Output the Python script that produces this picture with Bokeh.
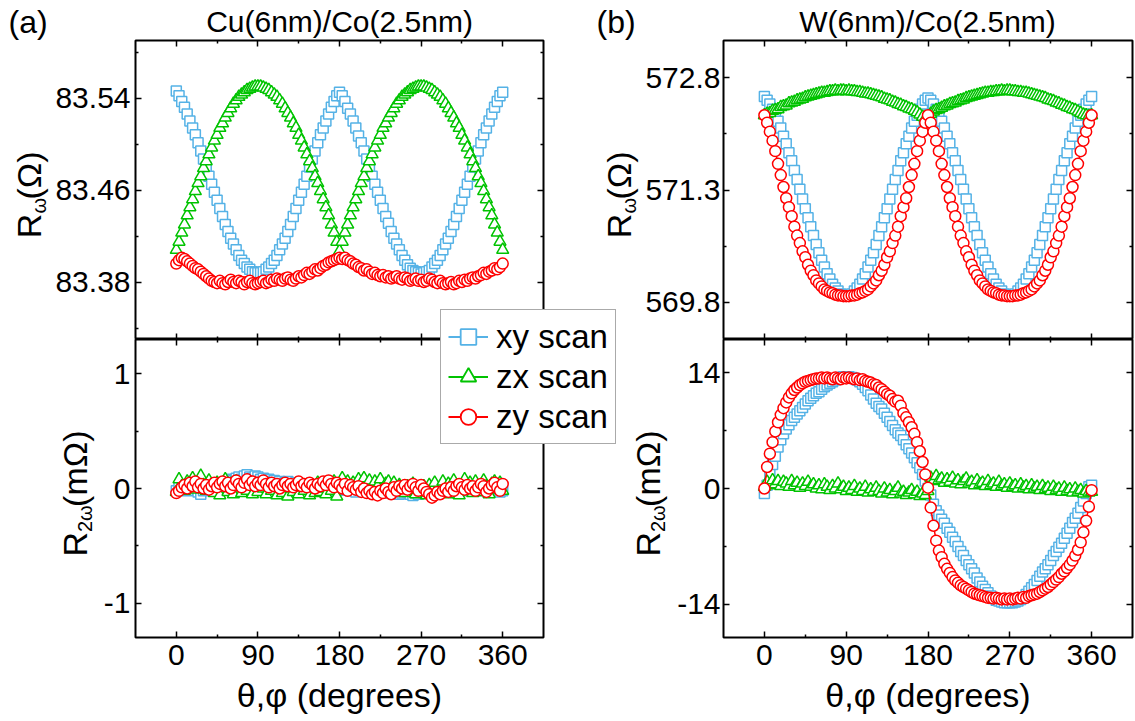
import math
from bokeh.plotting import figure
from bokeh.layouts import column
from bokeh.models import Range1d, FixedTicker, LinearAxis, Label, Legend, LegendItem, GridBox, Grid
from bokeh.embed import file_html
from bokeh.resources import INLINE

FONT = "Liberation Sans"
BLUE = "#55B2E6"
GREEN = "#00C300"
RED = "#FF0000"

# ---------------- data ----------------
ANGLES = list(range(0, 361, 3))
X_TICKS = [0, 90, 180, 270, 360]
X_MINOR = [45, 135, 225, 315]
X_RANGE = (-45, 405)
SERIES_NAMES = ["xy scan", "zx scan", "zy scan"]
TITLES = ["Cu(6nm)/Co(2.5nm)", "W(6nm)/Co(2.5nm)"]
PANEL_TAGS = ["(a)", "(b)"]

CU_YLIM = (83.33, 83.59)
CU_TICKS = [83.38, 83.46, 83.54]
CU_MINOR = [83.34, 83.42, 83.50, 83.58]
CU2_YLIM = (-1.3, 1.3)
CU2_TICKS = [-1, 0, 1]
CU2_MINOR = [-0.5, 0.5]
W_YLIM = (569.3, 573.3)
W_TICKS = [569.8, 571.3, 572.8]
W_MINOR = [570.55, 572.05]
W2_YLIM = (-18, 18)
W2_TICKS = [-14, 0, 14]
W2_MINOR = [-7, 7]

# Cu(6nm)/Co(2.5nm), R_omega (Ohm)
CU_XY = [83.546, 83.542, 83.537, 83.532, 83.526, 83.520, 83.514, 83.508, 83.501, 83.494,
         83.487, 83.480, 83.472, 83.465, 83.458, 83.451, 83.444, 83.437, 83.430, 83.424,
         83.418, 83.413, 83.408, 83.403, 83.399, 83.396, 83.393, 83.391, 83.389, 83.388,
         83.388, 83.388, 83.389, 83.391, 83.393, 83.396, 83.399, 83.403, 83.408, 83.413,
         83.418, 83.424, 83.430, 83.437, 83.444, 83.451, 83.458, 83.465, 83.472, 83.480,
         83.487, 83.494, 83.501, 83.508, 83.514, 83.520, 83.526, 83.532, 83.537, 83.542,
         83.545, 83.542, 83.537, 83.531, 83.526, 83.520, 83.514, 83.507, 83.501, 83.494,
         83.487, 83.480, 83.472, 83.465, 83.458, 83.451, 83.444, 83.437, 83.431, 83.424,
         83.418, 83.413, 83.408, 83.403, 83.399, 83.395, 83.392, 83.390, 83.389, 83.388,
         83.387, 83.388, 83.389, 83.390, 83.393, 83.396, 83.399, 83.403, 83.408, 83.413,
         83.418, 83.424, 83.430, 83.437, 83.444, 83.451, 83.458, 83.465, 83.472, 83.480,
         83.487, 83.494, 83.501, 83.508, 83.514, 83.520, 83.526, 83.532, 83.537, 83.542,
         83.545]
CU_ZX = [83.408, 83.415, 83.423, 83.430, 83.438, 83.445, 83.452, 83.459, 83.466, 83.472,
         83.479, 83.485, 83.491, 83.497, 83.503, 83.508, 83.514, 83.518, 83.523, 83.527,
         83.531, 83.535, 83.538, 83.541, 83.543, 83.545, 83.547, 83.548, 83.549, 83.550,
         83.550, 83.550, 83.549, 83.548, 83.547, 83.545, 83.543, 83.541, 83.538, 83.535,
         83.531, 83.527, 83.523, 83.518, 83.514, 83.508, 83.503, 83.497, 83.491, 83.485,
         83.479, 83.472, 83.466, 83.459, 83.452, 83.445, 83.438, 83.430, 83.423, 83.415,
         83.407, 83.415, 83.423, 83.430, 83.438, 83.445, 83.452, 83.459, 83.466, 83.472,
         83.479, 83.485, 83.491, 83.497, 83.503, 83.508, 83.514, 83.518, 83.523, 83.527,
         83.531, 83.535, 83.538, 83.541, 83.543, 83.545, 83.547, 83.548, 83.549, 83.550,
         83.550, 83.550, 83.549, 83.548, 83.547, 83.545, 83.543, 83.541, 83.538, 83.535,
         83.531, 83.527, 83.523, 83.518, 83.514, 83.508, 83.503, 83.497, 83.491, 83.485,
         83.479, 83.472, 83.466, 83.459, 83.452, 83.445, 83.438, 83.430, 83.423, 83.415,
         83.408]
CU_ZY = [83.396, 83.399, 83.401, 83.400, 83.398, 83.396, 83.394, 83.392, 83.391, 83.389,
         83.387, 83.385, 83.383, 83.381, 83.380, 83.379, 83.381, 83.379, 83.378, 83.380,
         83.382, 83.380, 83.379, 83.381, 83.380, 83.378, 83.380, 83.381, 83.379, 83.378,
         83.379, 83.380, 83.381, 83.379, 83.380, 83.382, 83.381, 83.383, 83.382, 83.381,
         83.383, 83.384, 83.382, 83.381, 83.383, 83.385, 83.384, 83.386, 83.388, 83.387,
         83.389, 83.391, 83.390, 83.392, 83.394, 83.395, 83.397, 83.398, 83.399, 83.400,
         83.401, 83.400, 83.401, 83.399, 83.398, 83.396, 83.395, 83.393, 83.392, 83.390,
         83.391, 83.389, 83.387, 83.388, 83.386, 83.385, 83.386, 83.384, 83.385, 83.383,
         83.384, 83.385, 83.383, 83.382, 83.384, 83.383, 83.381, 83.382, 83.383, 83.381,
         83.382, 83.380, 83.381, 83.383, 83.382, 83.380, 83.379, 83.381, 83.379, 83.378,
         83.379, 83.380, 83.378, 83.379, 83.381, 83.380, 83.382, 83.381, 83.383, 83.384,
         83.383, 83.385, 83.386, 83.388, 83.387, 83.389, 83.390, 83.392, 83.391, 83.393,
         83.396]

# Cu(6nm)/Co(2.5nm), R_2omega (mOhm)
CU2_XY = [-0.02, 0.01, 0.03, 0.00, -0.02, 0.02, 0.04, 0.01, -0.03, -0.05,
          -0.02, 0.01, 0.03, 0.02, -0.01, 0.02, 0.04, 0.03, 0.05, 0.06,
          0.08, 0.07, 0.09, 0.10, 0.08, 0.11, 0.12, 0.10, 0.09, 0.11,
          0.10, 0.08, 0.09, 0.07, 0.08, 0.06, 0.07, 0.05, 0.06, 0.04,
          0.05, 0.06, 0.04, 0.03, 0.05, 0.04, 0.02, 0.03, 0.01, 0.02,
          0.00, 0.01, -0.01, 0.00, 0.02, 0.01, -0.02, -0.01, 0.00, -0.02,
          -0.01, 0.00, -0.01, 0.01, -0.02, 0.00, -0.03, -0.01, 0.00, -0.02,
          -0.03, -0.01, -0.02, 0.00, -0.01, -0.03, -0.02, -0.04, -0.03, -0.01,
          -0.02, -0.03, -0.05, -0.04, -0.02, -0.03, -0.05, -0.06, -0.04, -0.05,
          -0.03, -0.04, -0.02, -0.03, -0.01, -0.02, 0.00, -0.01, 0.01, 0.00,
          -0.02, -0.01, 0.01, 0.02, 0.00, -0.01, 0.01, -0.02, 0.00, 0.01,
          -0.01, 0.02, 0.00, -0.02, -0.01, 0.01, 0.02, 0.00, -0.01, -0.03,
          -0.02]
CU2_ZX = [-0.03, 0.08, 0.02, -0.02, 0.06, 0.01, 0.09, -0.01, 0.05, 0.11,
          0.03, -0.02, 0.07, 0.00, -0.04, 0.05, -0.06, 0.02, 0.08, -0.03,
          0.04, -0.05, 0.06, 0.01, -0.04, 0.03, -0.02, 0.05, -0.05, 0.02,
          -0.03, 0.04, 0.00, -0.05, 0.03, -0.02, 0.01, -0.06, 0.02, -0.04,
          0.03, -0.07, 0.00, -0.03, 0.04, -0.05, 0.01, -0.02, 0.03, -0.06,
          0.02, -0.04, 0.05, -0.03, 0.00, -0.05, 0.04, -0.02, 0.06, -0.07,
          0.03, 0.09, 0.02, 0.06, -0.01, 0.05, 0.00, 0.08, 0.03, 0.09,
          0.01, 0.07, -0.02, 0.06, 0.02, 0.08, -0.01, 0.04, 0.06, 0.00,
          0.05, -0.03, 0.03, 0.01, -0.04, 0.02, -0.02, 0.04, -0.05, 0.01,
          -0.03, 0.02, -0.06, 0.03, -0.02, 0.05, -0.04, 0.00, 0.06, -0.03,
          0.04, -0.05, 0.07, 0.01, -0.06, 0.03, 0.08, -0.02, 0.05, -0.04,
          0.06, 0.00, -0.03, 0.07, 0.02, -0.05, 0.04, 0.06, -0.01, 0.05,
          -0.02]
CU2_ZY = [-0.04, -0.02, 0.01, 0.03, 0.00, 0.05, 0.02, 0.06, 0.01, 0.04,
          0.00, 0.03, -0.01, 0.02, 0.05, 0.01, 0.04, 0.06, 0.02, 0.05,
          0.00, 0.03, 0.07, 0.04, 0.01, 0.05, 0.08, 0.03, 0.06, 0.02,
          0.05, 0.03, 0.07, 0.04, 0.01, 0.05, 0.02, 0.04, 0.00, 0.03,
          0.05, 0.02, 0.04, 0.01, 0.03, 0.06, 0.02, 0.04, 0.01, 0.05,
          0.03, 0.00, 0.04, 0.02, 0.06, 0.03, 0.07, 0.04, 0.01, 0.05,
          0.03, 0.00, 0.04, -0.02, 0.03, 0.01, -0.01, 0.02, -0.03, 0.00,
          -0.04, -0.02, -0.05, -0.03, -0.06, -0.02, -0.04, 0.00, -0.03, -0.05,
          0.01, -0.02, 0.02, 0.00, 0.03, -0.01, 0.02, 0.04, 0.01, -0.02,
          0.03, 0.00, -0.03, -0.05, -0.08, -0.06, -0.03, -0.05, -0.02, 0.00,
          -0.03, 0.01, -0.02, 0.02, 0.04, 0.01, -0.01, 0.03, 0.00, 0.02,
          -0.02, 0.01, 0.04, 0.02, -0.03, 0.00, 0.03, 0.05, 0.01, -0.02,
          0.04]

# W(6nm)/Co(2.5nm), R_omega (Ohm)
W_XY = [572.55, 572.50, 572.45, 572.38, 572.30, 572.22, 572.13, 572.02, 571.92, 571.80,
        571.69, 571.56, 571.44, 571.31, 571.18, 571.05, 570.93, 570.81, 570.69, 570.57,
        570.46, 570.36, 570.27, 570.18, 570.11, 570.04, 569.99, 569.95, 569.91, 569.90,
        569.89, 569.90, 569.91, 569.95, 569.99, 570.04, 570.11, 570.18, 570.27, 570.36,
        570.46, 570.57, 570.69, 570.81, 570.93, 571.05, 571.18, 571.31, 571.44, 571.56,
        571.69, 571.80, 571.92, 572.02, 572.13, 572.22, 572.30, 572.38, 572.45, 572.50,
        572.53, 572.50, 572.45, 572.38, 572.30, 572.22, 572.13, 572.02, 571.92, 571.80,
        571.69, 571.56, 571.44, 571.31, 571.18, 571.05, 570.93, 570.81, 570.69, 570.57,
        570.46, 570.36, 570.27, 570.18, 570.11, 570.04, 569.99, 569.95, 569.91, 569.90,
        569.89, 569.90, 569.91, 569.95, 569.99, 570.04, 570.11, 570.18, 570.27, 570.36,
        570.46, 570.57, 570.69, 570.81, 570.93, 571.05, 571.18, 571.31, 571.44, 571.56,
        571.69, 571.80, 571.92, 572.02, 572.13, 572.22, 572.30, 572.38, 572.45, 572.50,
        572.55]
W_ZX = [572.30, 572.32, 572.33, 572.36, 572.37, 572.38, 572.41, 572.42, 572.43, 572.46,
        572.47, 572.48, 572.50, 572.51, 572.52, 572.54, 572.55, 572.56, 572.57, 572.58,
        572.59, 572.60, 572.60, 572.61, 572.62, 572.62, 572.63, 572.62, 572.63, 572.63,
        572.62, 572.63, 572.62, 572.62, 572.61, 572.61, 572.60, 572.59, 572.59, 572.58,
        572.57, 572.56, 572.55, 572.54, 572.52, 572.51, 572.50, 572.48, 572.47, 572.45,
        572.44, 572.42, 572.41, 572.39, 572.38, 572.36, 572.34, 572.31, 572.28, 572.26,
        572.27, 572.32, 572.35, 572.37, 572.38, 572.40, 572.42, 572.43, 572.45, 572.46,
        572.47, 572.49, 572.50, 572.51, 572.53, 572.54, 572.55, 572.56, 572.57, 572.58,
        572.59, 572.60, 572.60, 572.61, 572.61, 572.62, 572.62, 572.63, 572.62, 572.63,
        572.63, 572.62, 572.62, 572.61, 572.61, 572.60, 572.60, 572.59, 572.58, 572.57,
        572.56, 572.55, 572.54, 572.53, 572.51, 572.50, 572.49, 572.47, 572.46, 572.44,
        572.43, 572.41, 572.40, 572.38, 572.37, 572.35, 572.33, 572.31, 572.30, 572.29,
        572.30]
W_ZY = [572.30, 572.20, 572.08, 571.96, 571.82, 571.65, 571.50, 571.34, 571.19, 571.07,
        570.95, 570.81, 570.69, 570.59, 570.48, 570.40, 570.30, 570.22, 570.16, 570.09,
        570.05, 570.01, 569.97, 569.95, 569.93, 569.92, 569.90, 569.89, 569.89, 569.88,
        569.88, 569.88, 569.89, 569.89, 569.90, 569.92, 569.93, 569.95, 569.97, 570.01,
        570.05, 570.09, 570.16, 570.22, 570.30, 570.40, 570.48, 570.59, 570.69, 570.81,
        570.95, 571.07, 571.19, 571.34, 571.50, 571.65, 571.82, 571.96, 572.08, 572.20,
        572.30, 572.20, 572.08, 571.96, 571.82, 571.65, 571.50, 571.34, 571.19, 571.07,
        570.95, 570.81, 570.69, 570.59, 570.48, 570.40, 570.30, 570.22, 570.16, 570.09,
        570.05, 570.01, 569.97, 569.95, 569.93, 569.92, 569.90, 569.89, 569.89, 569.88,
        569.88, 569.88, 569.89, 569.89, 569.90, 569.92, 569.93, 569.95, 569.97, 570.01,
        570.05, 570.09, 570.16, 570.22, 570.30, 570.40, 570.48, 570.59, 570.69, 570.81,
        570.95, 571.07, 571.19, 571.34, 571.50, 571.65, 571.82, 571.96, 572.08, 572.20,
        572.30]

# W(6nm)/Co(2.5nm), R_2omega (mOhm)
W2_XY = [-0.6, 0.4, 1.8, 2.9, 3.9, 5.0, 5.9, 6.6, 7.2, 7.7,
         8.2, 8.6, 9.0, 9.4, 9.8, 10.2, 10.6, 10.9, 11.2, 11.5,
         11.7, 12.0, 12.3, 12.5, 12.7, 12.9, 13.1, 13.3, 13.4, 13.5,
         13.5, 13.5, 13.4, 13.3, 13.1, 12.9, 12.6, 12.2, 11.8, 11.3,
         10.8, 10.3, 9.9, 9.6, 9.1, 8.6, 8.1, 7.6, 7.1, 6.7,
         6.4, 5.9, 5.3, 4.8, 4.3, 3.7, 3.1, 2.5, 1.7, 0.9,
         0.0, -0.8, -1.9, -2.7, -3.2, -3.7, -4.2, -4.8, -5.3, -5.9,
         -6.4, -7.0, -7.6, -8.1, -8.7, -9.2, -9.7, -10.2, -10.8, -11.3,
         -11.8, -12.2, -12.6, -13.0, -13.3, -13.5, -13.6, -13.7, -13.8, -13.8,
         -13.8, -13.8, -13.7, -13.6, -13.4, -13.2, -12.8, -12.4, -12.0, -11.6,
         -11.1, -10.6, -10.1, -9.7, -9.2, -8.7, -8.1, -7.6, -7.1, -6.6,
         -6.0, -5.4, -4.8, -4.1, -3.6, -3.0, -2.3, -1.5, -0.6, 0.2,
         0.4]
W2_ZX = [0.2, 0.8, 0.4, 1.0, 0.5, 0.9, 0.3, 0.8, 0.6, 0.2,
         0.9, 0.4, 0.7, 0.1, 0.6, 0.3, 0.8, 0.2, 0.5, 0.0,
         0.4, -0.1, 0.5, 0.2, -0.2, 0.3, 0.0, 0.6, -0.1, 0.2,
         -0.3, 0.1, -0.2, 0.3, -0.4, 0.0, -0.3, 0.2, -0.5, -0.1,
         -0.4, 0.1, -0.3, -0.6, 0.0, -0.5, -0.2, -0.7, -0.3, 0.1,
         -0.6, -0.4, -0.8, -0.5, -0.2, -0.7, -0.4, -0.9, -0.6, -0.8,
         -0.3, 1.3, 0.9, 1.5, 1.0, 1.2, 0.7, 1.1, 0.8, 1.3,
         0.6, 1.0, 0.5, 0.9, 1.2, 0.6, 0.8, 0.4, 1.0, 0.5,
         0.7, 0.3, 0.9, 0.4, 0.6, 0.2, 0.8, 0.3, 0.5, 0.1,
         0.6, 0.2, 0.4, 0.0, 0.5, 0.1, 0.3, -0.1, 0.4, 0.0,
         0.2, -0.2, 0.3, -0.1, 0.1, -0.3, 0.2, -0.2, 0.0, -0.4,
         0.1, -0.3, -0.1, -0.5, 0.0, -0.4, -0.2, -0.6, -0.3, -0.5,
         -0.4]
W2_ZY = [0.0, 2.6, 4.2, 5.6, 6.9, 8.0, 8.9, 9.7, 10.4, 11.0,
         11.5, 11.9, 12.2, 12.5, 12.7, 12.9, 13.0, 13.1, 13.2, 13.3,
         13.3, 13.4, 13.3, 13.4, 13.3, 13.2, 13.4, 13.3, 13.2, 13.4,
         13.3, 13.4, 13.3, 13.2, 13.3, 13.1, 13.2, 13.0, 12.9, 12.8,
         12.6, 12.5, 12.2, 12.0, 11.7, 11.4, 11.2, 10.8, 10.5, 10.6,
         10.0, 9.1, 8.6, 8.0, 7.4, 6.6, 5.6, 4.5, 3.2, 1.7,
         0.1, -2.3, -4.5, -6.3, -7.5, -8.3, -9.1, -9.7, -10.2, -10.7,
         -11.1, -11.4, -11.7, -11.9, -12.1, -12.3, -12.5, -12.7, -12.8, -12.9,
         -13.0, -13.1, -13.2, -13.2, -13.3, -13.2, -13.3, -13.4, -13.3, -13.4,
         -13.3, -13.4, -13.3, -13.2, -13.3, -13.1, -13.2, -13.0, -12.9, -12.8,
         -12.7, -12.5, -12.3, -12.1, -11.9, -11.6, -11.3, -11.0, -10.7, -10.3,
         -10.0, -9.6, -9.2, -8.7, -8.1, -7.4, -6.5, -5.3, -3.9, -2.2,
         -0.2]

# ---------------- styling helpers ----------------
STYLES = [  # color, marker, size
    (BLUE, "square", 10),
    (GREEN, "triangle", 12),
    (RED, "circle", 11),
]
EM = {"R": 0.722, "ω": 0.70, "(": 0.333, ")": 0.333, "Ω": 0.768, "m": 0.833,
      "2": 0.556, " ": 0.278}


def hide_grids(p):
    for r in p.select(type=Grid):
        r.visible = False


def style_axis(ax, labels, standoff):
    ax.axis_line_color = None
    ax.major_tick_in = 6
    ax.major_tick_out = 0
    ax.minor_tick_in = 3
    ax.minor_tick_out = 0
    ax.major_tick_line_color = "black"
    ax.minor_tick_line_color = "black"
    ax.major_tick_line_width = 1.5
    ax.minor_tick_line_width = 1.5
    if labels:
        ax.major_label_text_font = FONT
        ax.major_label_text_font_size = "30px"
        ax.major_label_text_color = "black"
        ax.major_label_standoff = standoff
    else:
        ax.major_label_text_font_size = "0px"
        ax.major_label_standoff = 0


def make_panel(width, height, ylim, yticks, yminor, borders, xlabels, ystandoff):
    p = figure(width=width, height=height, title=None,
               x_range=Range1d(*X_RANGE), y_range=Range1d(*ylim),
               x_axis_location=None, y_axis_location=None,
               toolbar_location=None, output_backend="svg",
               min_border_left=borders[0], min_border_right=borders[1],
               min_border_top=borders[2], min_border_bottom=borders[3])
    p.outline_line_color = "black"
    p.outline_line_width = 2
    p.background_fill_color = "white"
    p.border_fill_color = "white"
    overrides = {t: f"{t:g}" for t in yticks}
    for side in ("left", "right"):
        ax = LinearAxis(ticker=FixedTicker(ticks=yticks, minor_ticks=yminor))
        style_axis(ax, side == "left", ystandoff)
        ax.major_label_overrides = overrides
        p.add_layout(ax, side)
    for side in ("below", "above"):
        ax = LinearAxis(ticker=FixedTicker(ticks=X_TICKS, minor_ticks=X_MINOR))
        lab = xlabels and side == "below"
        style_axis(ax, lab, 7)
        if lab:
            ax.axis_label = "θ,φ (degrees)"
            ax.axis_label_text_font = FONT
            ax.axis_label_text_font_size = "34px"
            ax.axis_label_text_font_style = "normal"
            ax.axis_label_text_color = "black"
            ax.axis_label_standoff = 8
        p.add_layout(ax, side)
    hide_grids(p)
    return p


def draw(p, ys):
    for y, (color, marker, size) in zip(ys, STYLES):
        x = ANGLES[:len(y)]
        p.line(x, y, line_color=color, line_width=1.5)
        p.scatter(x, y, marker=marker, size=size, line_color=color,
                  fill_color="white", line_width=1.5)


# ---------------- layout sizes (px from top-left of the page) ----------------
LW, RW = 600, 534
TH, BH = 339, 381
TOTAL_W, TOTAL_H = LW + RW, TH + BH

p1 = make_panel(LW, TH, CU_YLIM, CU_TICKS, CU_MINOR, (135, 57, 40, 0), False, 5)
p2 = make_panel(RW, TH, W_YLIM, W_TICKS, W_MINOR, (123, 2, 40, 0), False, 3)
p3 = make_panel(LW, BH, CU2_YLIM, CU2_TICKS, CU2_MINOR, (135, 57, 0, 83), True, 5)
p4 = make_panel(RW, BH, W2_YLIM, W2_TICKS, W2_MINOR, (123, 2, 0, 83), True, 3)

draw(p1, [CU_XY, CU_ZX, CU_ZY])
draw(p2, [W_XY, W_ZX, W_ZY])
draw(p3, [CU2_XY, CU2_ZX, CU2_ZY])
draw(p4, [W2_XY, W2_ZX, W2_ZY])

# ---------------- transparent overlay: free texts + legend ----------------
ov = figure(width=TOTAL_W, height=TOTAL_H, title=None, x_range=Range1d(0, 1), y_range=Range1d(0, 1),
            x_axis_location=None, y_axis_location=None, toolbar_location=None,
            output_backend="svg", min_border=0)
hide_grids(ov)
ov.outline_line_color = None
ov.background_fill_color = None
ov.border_fill_color = None


def ov_text(text, lx, ly, size, align="left", baseline="middle", angle=0.0):
    ov.add_layout(Label(x=lx, y=TOTAL_H - ly, x_units="screen", y_units="screen", text=text,
                        angle=angle, text_font=FONT, text_font_size=f"{size}px",
                        text_align=align, text_baseline=baseline, text_color="black"))


def ov_vlabel(parts, lx, ly_center):
    lengths = [sum(EM.get(c, 0.6) for c in t) * s for t, s, _ in parts]
    ly = ly_center + sum(lengths) / 2
    for (t, s, sh), L in zip(parts, lengths):
        ov_text(t, lx + sh, ly, s, "left", "alphabetic", math.pi / 2)
        ly -= L


ov_text(TITLES[0], 339, 21, 30, "center")
ov_text(TITLES[1], 927, 21, 30, "center")
ov_text(PANEL_TAGS[0], 8, 21, 32)
ov_text(PANEL_TAGS[1], 596, 21, 32)

ov_vlabel([("R", 34, 0), ("ω", 20, 10), ("(Ω)", 34, 0)], 28, 194)
ov_vlabel([("R", 34, 0), ("ω", 20, 10), ("(Ω)", 34, 0)], 618, 194)
ov_vlabel([("R", 34, 0), ("2ω", 20, 10), (" (mΩ)", 34, 0)], 74, 488)
ov_vlabel([("R", 34, 0), ("2ω", 20, 10), (" (mΩ)", 34, 0)], 647, 488)

NAN = float("nan")
items = []
for name, (color, marker, size) in zip(SERIES_NAMES, STYLES):
    lr = ov.line([NAN, NAN], [NAN, NAN], line_color=color, line_width=2)
    sr = ov.scatter([NAN], [NAN], marker=marker, size=size, line_color=color,
                    fill_color="white", line_width=1.8)
    items.append(LegendItem(label=name, renderers=[lr, sr]))
leg = Legend(items=items, location=(440, TOTAL_H - 444), margin=0, padding=7, spacing=1,
             label_height=39, glyph_height=39, glyph_width=40, label_standoff=8,
             label_text_font=FONT, label_text_font_size="33px", label_text_color="black",
             border_line_color="#555555", border_line_width=1.5,
             background_fill_color="white", background_fill_alpha=1.0)
ov.add_layout(leg, "center")

overlay = column(ov, width=TOTAL_W, height=TOTAL_H)

grid = GridBox(children=[(p1, 0, 0), (p2, 0, 1), (p3, 1, 0), (p4, 1, 1), (overlay, 0, 0, 2, 2)],
               spacing=0)

open("out.html", "w").write(file_html(grid, INLINE))
